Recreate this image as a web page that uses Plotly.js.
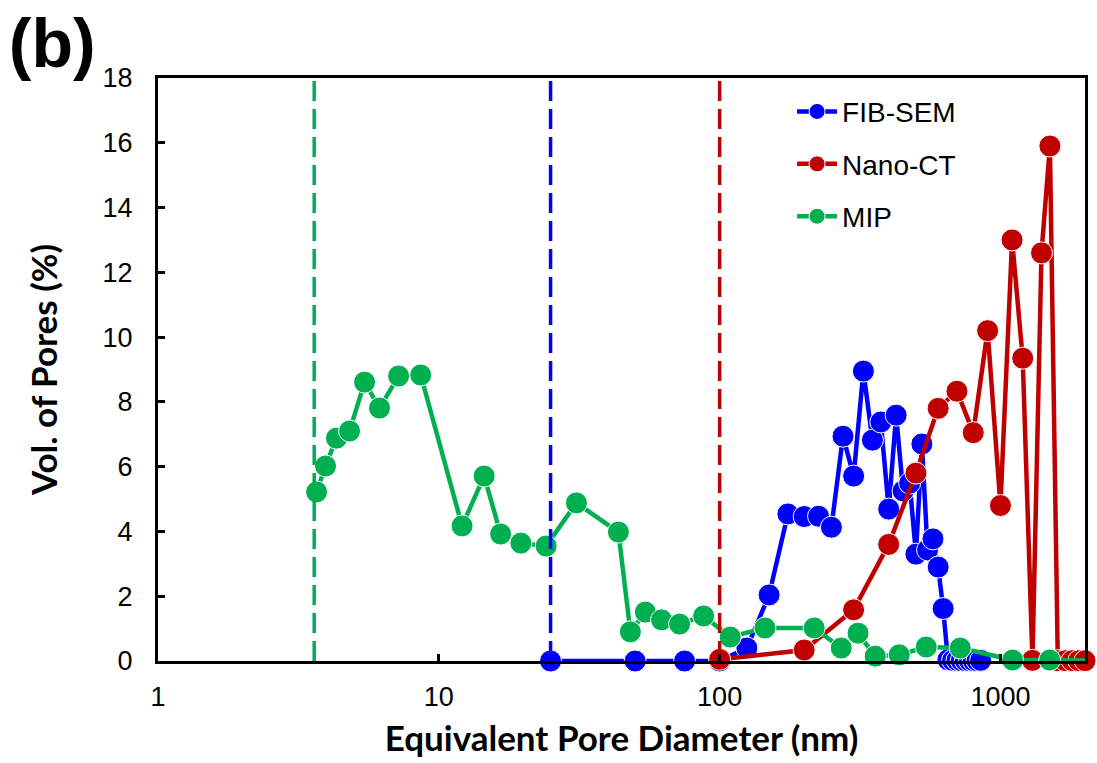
<!DOCTYPE html>
<html>
<head>
<meta charset="utf-8">
<script src="https://cdn.plot.ly/plotly-3.0.1.min.js"></script>
<style>html,body{margin:0;padding:0;background:#fff;}#chart{width:1097px;height:763px;}</style>
</head>
<body>
<div id="chart"></div>
<script>
// FIB-SEM
const fibX = [25, 50, 75, 100, 125, 150, 175, 200, 225, 250, 275, 300, 325, 350, 375, 400, 425, 450, 475, 500, 525, 550, 575, 600, 625, 650, 675, 700, 725, 750, 775, 800, 825, 850];
const fibY = [0, 0, 0, 0, 0.40, 2.04, 4.54, 4.46, 4.47, 4.13, 6.94, 5.71, 8.95, 6.82, 7.38, 4.69, 7.59, 5.25, 5.49, 3.30, 6.70, 3.43, 3.77, 2.90, 1.62, 0.04, 0.02, 0.02, 0.01, 0.01, 0.01, 0.01, 0.01, 0.02];
// Nano-CT
const ctX = [100, 200, 300, 400, 500, 600, 700, 800, 900, 1000, 1100, 1200, 1300, 1400, 1500, 1600, 1700, 1800, 1900, 2000];
const ctY = [0.05, 0.34, 1.58, 3.60, 5.80, 7.80, 8.33, 7.05, 10.20, 4.80, 13.00, 9.35, 0.02, 12.60, 15.90, 0.01, 0.01, 0.01, 0.01, 0.01];
// MIP
const mipX = [3.67, 3.95, 4.32, 4.81, 5.44, 6.15, 7.19, 8.62, 12.1, 14.5, 16.6, 19.6, 24.1, 30.9, 43.6, 48.1, 54.4, 62.1, 72.0, 87.7, 109, 145, 217, 271, 311, 358, 436, 544, 719, 1105, 1497, 3000];
const mipY = [5.22, 6.02, 6.88, 7.10, 8.61, 7.81, 8.80, 8.83, 4.17, 5.71, 3.92, 3.64, 3.55, 4.88, 3.98, 0.90, 1.51, 1.27, 1.14, 1.39, 0.74, 1.02, 1.02, 0.40, 0.86, 0.15, 0.19, 0.43, 0.40, 0.03, 0.03, 0];
// Resolution limits (dashed lines): MIP, FIB-SEM, Nano-CT
const limitX = [3.6, 25, 100];
const xTickVals = [1, 10, 100, 1000];
const xTickText = ['1', '10', '100', '1000'];
const seriesNames = ['FIB-SEM', 'Nano-CT', 'MIP'];

const colors = ['#0000FF', '#C00000', '#00B050'];
const limitColors = ['#00B050', '#0000FF', '#C00000'];
const xs = [fibX, ctX, mipX];
const ys = [fibY, ctY, mipY];

const traces = xs.map((x, i) => ({
  type: 'scatter', mode: 'lines+markers', name: seriesNames[i],
  x: x, y: ys[i], legendgroup: 'g' + i,
  line: {color: colors[i], width: 4.5},
  marker: {color: colors[i], size: 22, line: {color: '#ffffff', width: 1}},
  cliponaxis: false
}));
limitX.forEach((v, i) => {
  traces.push({
    type: 'scatter', mode: 'lines', x: [v, v], y: [0, 18], showlegend: false,
    legendgroup: 'lim' + i,
    hoverinfo: 'skip', line: {color: limitColors[i], width: 3.5, dash: '20px,8px'}
  });
});

const axisCommon = {
  showline: true, linecolor: '#000', linewidth: 3, mirror: true,
  ticks: 'inside', ticklen: 7, tickwidth: 3, tickcolor: '#000',
  showgrid: false, zeroline: false,
  tickfont: {family: 'Liberation Sans, Arial, sans-serif', size: 27, color: '#000'}
};

const layout = {
  width: 1097, height: 763,
  margin: {l: 158, r: 12, t: 78, b: 102},
  paper_bgcolor: '#fff', plot_bgcolor: '#fff',
  title: {text: '<b>(b)</b>', font: {family: 'Liberation Sans, Arial, sans-serif', size: 68, color: '#000'},
          x: 0.008, xanchor: 'left', xref: 'container', y: 0.944, yanchor: 'middle', yref: 'container'},
  xaxis: Object.assign({}, axisCommon, {
    type: 'log', range: [0, Math.log10(2000)],
    tickvals: xTickVals, ticktext: xTickText, ticklabelstandoff: 10,
    title: {text: '<b>Equivalent Pore Diameter (nm)</b>', font: {family: 'Lato, sans-serif', size: 35, color: '#000'}, standoff: 16}
  }),
  yaxis: Object.assign({}, axisCommon, {
    range: [0, 18], dtick: 2, ticklabelstandoff: 17,
    title: {text: '<b>Vol. of Pores (%)</b>', font: {family: 'Lato, sans-serif', size: 35, color: '#000'}, standoff: 35}
  }),
  showlegend: true,
  legend: {x: 0.684, y: 0.985, xanchor: 'left', yanchor: 'top', bgcolor: 'rgba(0,0,0,0)',
           font: {family: 'Liberation Sans, Arial, sans-serif', size: 28, color: '#000'},
           tracegroupgap: 13, itemwidth: 40, traceorder: 'grouped'}
};

Plotly.newPlot('chart', traces, layout, {displayModeBar: false, staticPlot: true});
</script>
</body>
</html>
